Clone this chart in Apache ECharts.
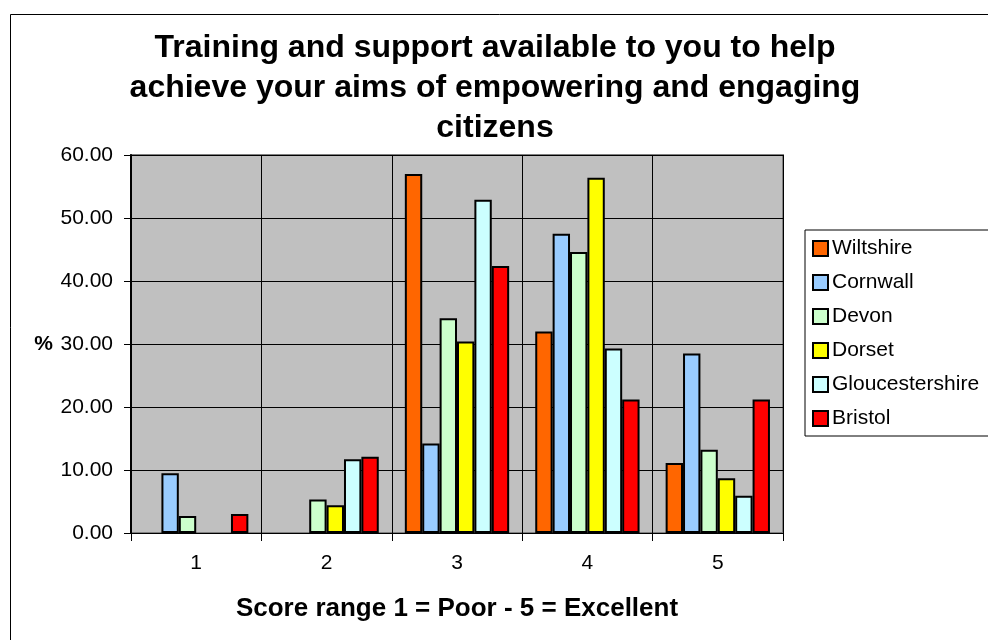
<!DOCTYPE html>
<html>
<head>
<meta charset="utf-8">
<script src="https://cdn.jsdelivr.net/npm/echarts@6/dist/echarts.min.js"></script>
<style>
  html, body { margin: 0; padding: 0; background: #fff; }
  #chart { width: 988px; height: 640px; }
</style>
</head>
<body>
<div id="chart"></div>
<script>
// categories (score 1..5)
var scores = ['1', '2', '3', '4', '5'];
var yTicks = [0, 10, 20, 30, 40, 50, 60];

// % per score
var wiltshire       = [0,   0,    57.0, 32.0, 11.1];
var cornwall        = [9.5, 0,    14.2, 47.5, 28.5];
var devon           = [2.7, 5.3,  34.1, 44.6, 13.2];
var dorset          = [0,   4.4,  30.4, 56.4, 8.7];
var gloucestershire = [0,   11.7, 52.9, 29.3, 5.9];
var bristol         = [3.0, 12.1, 42.4, 21.2, 21.2];

var seriesNames = ['Wiltshire', 'Cornwall', 'Devon', 'Dorset', 'Gloucestershire', 'Bristol'];
var seriesData = [wiltshire, cornwall, devon, dorset, gloucestershire, bristol];
var colors = ['#FF6600', '#99CCFF', '#CCFFCC', '#FFFF00', '#CCFFFF', '#FF0000'];

var font = 'Liberation Sans, Arial, sans-serif';

var chart = echarts.init(document.getElementById('chart'));
chart.setOption({
  backgroundColor: '#ffffff',
  animation: false,
  textStyle: { fontFamily: font },
  graphic: [{
    type: 'rect',
    left: 8, top: 12,
    shape: { width: 1000, height: 700 },
    style: { fill: 'none', stroke: '#000', lineWidth: 1 },
    silent: true
  }],
  title: {
    text: 'Training and support available to you to help\nachieve your aims of empowering and engaging\ncitizens',
    left: 495,
    textAlign: 'center',
    top: 28,
    padding: 0,
    textStyle: {
      fontFamily: font,
      fontSize: 32,
      fontWeight: 'bold',
      lineHeight: 40,
      color: '#000'
    }
  },
  legend: {
    orient: 'vertical',
    left: 805,
    top: 230,
    padding: [8, 12, 7, 7],
    itemGap: 13,
    itemWidth: 15,
    itemHeight: 15,
    borderColor: '#000',
    borderWidth: 1,
    backgroundColor: '#fff',
    icon: 'rect',
    itemStyle: { borderColor: '#000', borderWidth: 2 },
    textStyle: { fontFamily: font, fontSize: 21, lineHeight: 21, color: '#000', padding: [0, 0, 0, -1] },
    data: seriesNames
  },
  grid: {
    left: 131,
    right: 205,
    top: 155,
    bottom: 107,
    show: true,
    backgroundColor: '#C0C0C0',
    borderColor: '#808080',
    borderWidth: 2
  },
  xAxis: {
    type: 'category',
    data: scores,
    name: 'Score range 1 = Poor - 5 = Excellent',
    nameLocation: 'middle',
    nameGap: 63,
    nameTextStyle: { fontFamily: font, fontSize: 26, fontWeight: 'bold', color: '#000' },
    axisLine: { lineStyle: { color: '#000', width: 1 } },
    axisTick: { show: true, length: 8, lineStyle: { color: '#000' } },
    axisLabel: { fontFamily: font, fontSize: 21, color: '#000', margin: 20 },
    splitLine: { show: true, lineStyle: { color: '#000', width: 1 } }
  },
  yAxis: {
    type: 'value',
    min: yTicks[0],
    max: yTicks[yTicks.length - 1],
    interval: 10,
    name: '%',
    nameLocation: 'middle',
    nameRotate: 0,
    nameGap: 78,
    nameTextStyle: { fontFamily: font, fontSize: 21, fontWeight: 'bold', color: '#000', align: 'right' },
    axisLine: { show: true, lineStyle: { color: '#000', width: 2 } },
    axisTick: { show: true, length: 7, lineStyle: { color: '#000' } },
    axisLabel: {
      fontFamily: font, fontSize: 21, color: '#000', margin: 18,
      formatter: function (v) { return v.toFixed(2); }
    },
    splitLine: { show: true, lineStyle: { color: '#000', width: 1 } }
  },
  series: seriesNames.map(function (name, i) {
    return {
      name: name,
      type: 'bar',
      // zero values are not drawn in the original
      data: seriesData[i].map(function (v) { return v === 0 ? '-' : v; }),
      barGap: '0%',
      barCategoryGap: '20%',
      itemStyle: { color: colors[i], borderColor: '#000', borderWidth: 2 }
    };
  })
});
</script>
</body>
</html>
